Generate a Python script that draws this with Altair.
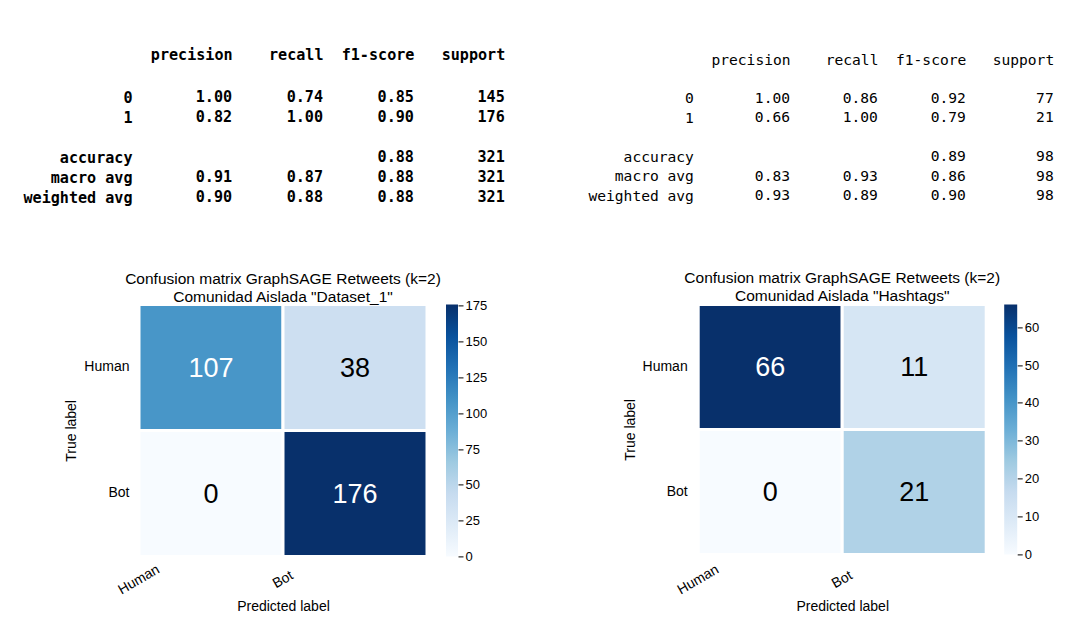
import altair as alt
import numpy as np
import pandas as pd

# ---- values -------------------------------------------------------------
CLASS_NAMES = ["Human", "Bot"]
REPORT_COLUMNS = ["precision", "recall", "f1-score", "support"]
REPORT_ROWS = ["0", "1", "accuracy", "macro avg", "weighted avg"]
# row slots of the printed report, with the blank line before "accuracy"
ROW_SLOTS = ["0", "1", " ", "accuracy", "macro avg", "weighted avg"]

# Comunidad Aislada "Dataset_1"
D1_PRECISION = [1.00, 0.82, None, 0.91, 0.90]
D1_RECALL = [0.74, 1.00, None, 0.87, 0.88]
D1_F1 = [0.85, 0.90, 0.88, 0.88, 0.88]
D1_SUPPORT = [145, 176, 321, 321, 321]
D1_MATRIX = [[107, 38], [0, 176]]
D1_TICKS = [0, 25, 50, 75, 100, 125, 150, 175]

# Comunidad Aislada "Hashtags"
HT_PRECISION = [1.00, 0.66, None, 0.83, 0.93]
HT_RECALL = [0.86, 1.00, None, 0.93, 0.89]
HT_F1 = [0.92, 0.79, 0.89, 0.86, 0.90]
HT_SUPPORT = [77, 21, 98, 98, 98]
HT_MATRIX = [[66, 11], [0, 21]]
HT_TICKS = [0, 10, 20, 30, 40, 50, 60]

# matplotlib "Blues"
BLUES = ["#f7fbff", "#deebf7", "#c6dbef", "#9ecae1", "#6baed6",
         "#4292c6", "#2171b5", "#08519c", "#08306b"]

MONO = "DejaVu Sans Mono"
SANS = "Liberation Sans"
CELL_W = 288


def report_frame(prec, rec, f1, sup):
    recs = []
    for i, row in enumerate(REPORT_ROWS):
        for col, vals in zip(REPORT_COLUMNS, [prec, rec, f1, sup]):
            v = vals[i]
            if v is None:
                continue
            txt = f"{v:d}" if col == "support" else f"{v:.2f}"
            recs.append({"row": row, "col": col, "txt": txt})
    return pd.DataFrame(recs)


def report_chart(df, size, weight, width, height, x_pad, y_pad, header_pad, label_pad):
    font = dict(labelFont=MONO, labelFontSize=size, labelFontWeight=weight, labelColor="black")
    return alt.Chart(df).mark_text(
        align="right", baseline="middle", font=MONO, fontSize=size,
        fontWeight=weight, color="black",
    ).encode(
        x=alt.X("col:N",
                scale=alt.Scale(type="point", domain=REPORT_COLUMNS, padding=x_pad, align=1, round=False),
                axis=alt.Axis(orient="top", title=None, labelAngle=0, labelAlign="right",
                              labelBaseline="bottom", labelPadding=header_pad, ticks=False,
                              tickSize=0, domain=False, grid=False, **font)),
        y=alt.Y("row:N",
                scale=alt.Scale(type="point", domain=ROW_SLOTS, padding=y_pad, round=False),
                axis=alt.Axis(orient="left", title=None, labelAlign="right", labelBaseline="middle",
                              labelPadding=label_pad, ticks=False, tickSize=0, domain=False,
                              grid=False, **font)),
        text="txt:N",
    ).properties(width=width, height=height)


def heatmap(matrix, ticks, subtitle, height, y_label_pad, x_label_pad, bar_x, title_dy):
    vmax = max(max(r) for r in matrix)
    df = pd.DataFrame([
        {"true": CLASS_NAMES[i], "pred": CLASS_NAMES[j], "n": matrix[i][j]}
        for i in range(2) for j in range(2)
    ])
    stops = [float(s) for s in np.linspace(0, vmax, len(BLUES))]
    base = alt.Chart(df).encode(
        x=alt.X("pred:N",
                scale=alt.Scale(domain=CLASS_NAMES, paddingInner=0, paddingOuter=0),
                axis=alt.Axis(title="Predicted label", labelOffset=-CELL_W / 4, labelAngle=330,
                              labelAlign="center", labelBaseline="middle",
                              labelPadding=x_label_pad, ticks=False, tickSize=0, domain=False,
                              labelOverlap=False, labelFont=SANS, labelFontSize=14,
                              labelColor="black", titleFont=SANS, titleFontSize=14,
                              titleFontWeight="normal", titleColor="black", titlePadding=3)),
        y=alt.Y("true:N",
                scale=alt.Scale(domain=CLASS_NAMES, paddingInner=0, paddingOuter=0),
                axis=alt.Axis(title="True label", labelAngle=0, labelAlign="right",
                              labelBaseline="middle", labelPadding=y_label_pad, ticks=False,
                              tickSize=0, domain=False, labelFont=SANS, labelFontSize=14,
                              labelColor="black", titleFont=SANS, titleFontSize=14,
                              titleFontWeight="normal", titleColor="black", titlePadding=5)),
    )
    cells = base.mark_rect(stroke="white", strokeWidth=3).encode(
        color=alt.Color("n:Q",
                        scale=alt.Scale(domain=stops, range=BLUES, interpolate="rgb"),
                        legend=None)
    )
    counts = base.mark_text(font=SANS, fontSize=27, baseline="middle", align="center", dy=1.5).encode(
        text="n:Q",
        color=alt.condition(f"datum.n > {vmax / 2}", alt.value("white"), alt.value("black")),
    )

    # colour bar: one gradient-filled rect spanning the value range, with its own axis
    bar_df = pd.DataFrame({"lo": [0], "hi": [vmax], "a": [0], "b": [1]})
    gradient = alt.LinearGradient(
        gradient="linear", x1=0, x2=0, y1=1, y2=0,
        stops=[alt.GradientStop(offset=i / (len(BLUES) - 1), color=c) for i, c in enumerate(BLUES)],
    )
    bar = alt.Chart(bar_df).mark_rect(color=gradient).encode(
        x=alt.X("a:Q", scale=alt.Scale(domain=[0, 1], range=list(bar_x)), axis=None),
        x2="b:Q",
        y=alt.Y("lo:Q", scale=alt.Scale(domain=[0, vmax], nice=False, zero=False),
                axis=alt.Axis(orient="right", offset=bar_x[1] - CELL_W, values=ticks, format="d",
                              title=None, domain=False, grid=False, ticks=True, tickSize=5,
                              tickWidth=1, tickColor="black", labelPadding=2, labelFlush=False,
                              labelOverlap=False, labelFont=SANS, labelFontSize=13,
                              labelColor="black")),
        y2="hi:Q",
    )

    return alt.layer(alt.layer(cells, counts), bar).resolve_scale(
        x="independent", y="independent"
    ).properties(
        width=CELL_W, height=height,
        title=alt.TitleParams(
            ["Confusion matrix GraphSAGE Retweets (k=2)", subtitle],
            font=SANS, fontSize=15.5, fontWeight="normal", color="black",
            anchor="middle", frame="group", offset=0, dy=title_dy, lineHeight=18,
        ),
    )


table_d1 = report_chart(report_frame(D1_PRECISION, D1_RECALL, D1_F1, D1_SUPPORT),
                        15.1, "bold", 365.8, 120, 0.5121, 0.5, 24.3, 7)
table_ht = report_chart(report_frame(HT_PRECISION, HT_RECALL, HT_F1, HT_SUPPORT),
                        14.6, "normal", 355.5, 121.1, 0.5224, 0.605, 19.3, 4.8)
heat_d1 = heatmap(D1_MATRIX, D1_TICKS, 'Comunidad Aislada "Dataset_1"', 252, 10, 23, (307, 319), 6)
heat_ht = heatmap(HT_MATRIX, HT_TICKS, 'Comunidad Aislada "Hashtags"', 250, 11, 25, (306, 319), 1.5)

chart = alt.concat(
    table_d1, table_ht, heat_d1, heat_ht,
    columns=2, spacing={"row": 95.4, "column": 193.2}, bounds="flush", align="each",
).resolve_scale(
    color="independent", x="independent", y="independent"
).properties(
    padding={"left": 22, "top": 47, "right": 6, "bottom": 6},
    background="white",
).configure_view(stroke=None)

chart.save("out.html", embed_options={"renderer": "svg", "actions": False})
